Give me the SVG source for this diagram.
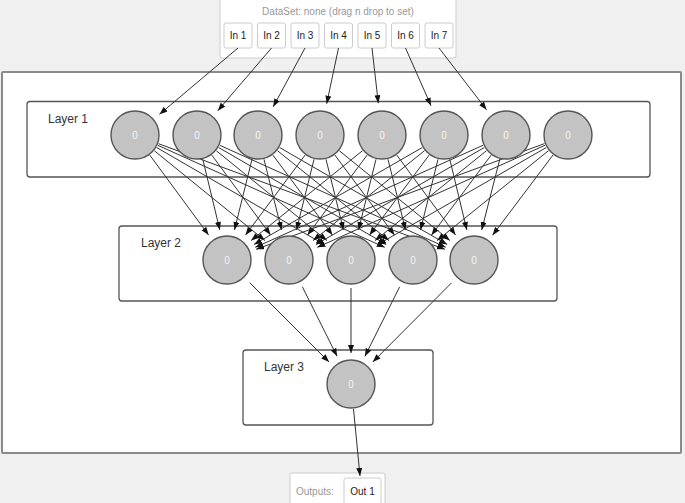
<svg xmlns="http://www.w3.org/2000/svg" width="685" height="503" viewBox="0 0 685 503">
<defs>
<marker id="ah" markerUnits="userSpaceOnUse" markerWidth="9" markerHeight="7" refX="8" refY="3" orient="auto">
<path d="M0,0 L8,3 L0,6 z" fill="#111"/>
</marker>
<style>
.bg{fill:#f0f0f0}
.panel{fill:#fff;stroke:#8a8a8a;stroke-width:2}
.box{fill:none;stroke:#555;stroke-width:1.3}
.node circle{fill:#c3c3c3;stroke:#555;stroke-width:1.4}
.node text{font-family:"Liberation Sans",Arial,sans-serif;font-size:10px;fill:#f4f4f4;text-anchor:middle}
.lbl{font-family:"Liberation Sans",Arial,sans-serif;font-size:12px;fill:#333}
.io{fill:#fff;stroke:#ccc;stroke-width:1}
.iotxt{font-family:"Liberation Sans",Arial,sans-serif;font-size:10px;fill:#222;text-anchor:middle}
.gtxt{font-family:"Liberation Sans",Arial,sans-serif;font-size:10px;fill:#999}
#connectors line{stroke:#333;stroke-width:1;marker-end:url(#ah)}
</style>
</defs>
<rect class="bg" x="0" y="0" width="685" height="503"/>
<rect class="panel" x="2" y="72" width="679" height="381" rx="1"/>

<g id="dataset">
<rect class="io" x="220" y="-2" width="236" height="60" rx="2"/>
<text class="gtxt" x="338" y="15" text-anchor="middle">DataSet: none (drag n drop to set)</text>
</g>
<g id="in1"><rect class="io" x="224" y="23" width="28" height="25" rx="2"/><text class="iotxt" x="238" y="39">In 1</text></g>
<g id="in2"><rect class="io" x="257.5" y="23" width="28" height="25" rx="2"/><text class="iotxt" x="271.5" y="39">In 2</text></g>
<g id="in3"><rect class="io" x="291" y="23" width="28" height="25" rx="2"/><text class="iotxt" x="305" y="39">In 3</text></g>
<g id="in4"><rect class="io" x="324.5" y="23" width="28" height="25" rx="2"/><text class="iotxt" x="338.5" y="39">In 4</text></g>
<g id="in5"><rect class="io" x="358" y="23" width="28" height="25" rx="2"/><text class="iotxt" x="372" y="39">In 5</text></g>
<g id="in6"><rect class="io" x="391.5" y="23" width="28" height="25" rx="2"/><text class="iotxt" x="405.5" y="39">In 6</text></g>
<g id="in7"><rect class="io" x="425" y="23" width="28" height="25" rx="2"/><text class="iotxt" x="439" y="39">In 7</text></g>

<g id="outputs">
<rect class="io" x="290" y="473" width="95" height="40" rx="2"/>
<text class="gtxt" x="296" y="495">Outputs:</text>
</g>
<g id="out1"><rect class="io" x="344" y="478" width="37" height="35" rx="2"/><text class="iotxt" x="362.5" y="495">Out 1</text></g>

<g id="layer1">
<rect class="box" x="27" y="101.5" width="623" height="75.5" rx="3"/>
<text class="lbl" x="48" y="123">Layer 1</text>
</g>
<g id="layer2">
<rect class="box" x="119" y="226" width="438" height="75" rx="3"/>
<text class="lbl" x="141" y="247">Layer 2</text>
</g>
<g id="layer3">
<rect class="box" x="243" y="350" width="190" height="75" rx="3"/>
<text class="lbl" x="264" y="371">Layer 3</text>
</g>

<g id="connectors">
<line x1="238" y1="48" x2="159.5" y2="114.3"/>
<line x1="271.5" y1="48" x2="217.8" y2="110.7"/>
<line x1="305" y1="48" x2="273.2" y2="106.8"/>
<line x1="338.5" y1="48" x2="326.7" y2="103.7"/>
<line x1="372" y1="48" x2="378.3" y2="103.2"/>
<line x1="405.5" y1="48" x2="431" y2="105.7"/>
<line x1="439" y1="48" x2="486.5" y2="109.7"/>

<line x1="149.8" y1="155.1" x2="208.6" y2="235.0"/>
<line x1="154.4" y1="150.8" x2="264.9" y2="240.5"/>
<line x1="156.6" y1="147.5" x2="324.2" y2="244.5"/>
<line x1="157.8" y1="145.3" x2="384.7" y2="247.3"/>
<line x1="158.5" y1="143.7" x2="444.9" y2="249.3"/>

<line x1="202.8" y1="159.3" x2="219.8" y2="229.9"/>
<line x1="211.8" y1="155.1" x2="270.6" y2="235.0"/>
<line x1="216.4" y1="150.8" x2="326.9" y2="240.5"/>
<line x1="218.6" y1="147.5" x2="386.2" y2="244.5"/>
<line x1="219.8" y1="145.3" x2="445.7" y2="247.2"/>

<line x1="252.0" y1="159.3" x2="234.5" y2="229.9"/>
<line x1="264.0" y1="159.3" x2="281.5" y2="229.9"/>
<line x1="272.9" y1="155.1" x2="332.5" y2="235.1"/>
<line x1="277.5" y1="150.7" x2="388.9" y2="240.5"/>
<line x1="279.6" y1="147.5" x2="447.2" y2="244.5"/>

<line x1="305.1" y1="155.1" x2="245.5" y2="235.1"/>
<line x1="314.0" y1="159.3" x2="296.5" y2="229.9"/>
<line x1="326.0" y1="159.3" x2="343.5" y2="229.9"/>
<line x1="334.9" y1="155.1" x2="394.5" y2="235.1"/>
<line x1="339.4" y1="150.8" x2="449.9" y2="240.5"/>

<line x1="362.5" y1="150.7" x2="251.1" y2="240.5"/>
<line x1="367.1" y1="155.1" x2="307.5" y2="235.1"/>
<line x1="376.0" y1="159.3" x2="358.5" y2="229.9"/>
<line x1="388.0" y1="159.3" x2="405.5" y2="229.9"/>
<line x1="396.8" y1="155.1" x2="455.6" y2="235.0"/>

<line x1="422.3" y1="147.5" x2="253.9" y2="244.5"/>
<line x1="424.5" y1="150.7" x2="313.1" y2="240.5"/>
<line x1="429.1" y1="155.1" x2="369.5" y2="235.1"/>
<line x1="438.0" y1="159.3" x2="420.5" y2="229.9"/>
<line x1="449.8" y1="159.3" x2="466.8" y2="229.9"/>

<line x1="483.2" y1="145.2" x2="255.3" y2="247.3"/>
<line x1="484.3" y1="147.5" x2="315.9" y2="244.5"/>
<line x1="486.5" y1="150.7" x2="375.1" y2="240.5"/>
<line x1="491.1" y1="155.1" x2="431.5" y2="235.1"/>
<line x1="499.8" y1="159.2" x2="481.7" y2="230.0"/>

<line x1="544.5" y1="143.6" x2="256.1" y2="249.3"/>
<line x1="545.2" y1="145.2" x2="317.3" y2="247.3"/>
<line x1="546.3" y1="147.5" x2="377.9" y2="244.5"/>
<line x1="548.5" y1="150.7" x2="437.1" y2="240.5"/>
<line x1="553.0" y1="155.0" x2="492.6" y2="235.2"/>

<line x1="249.7" y1="282.7" x2="329.1" y2="362.1"/>
<line x1="302.4" y1="286.9" x2="337.1" y2="356.3"/>
<line x1="351" y1="288" x2="351" y2="353"/>
<line x1="399.6" y1="286.9" x2="364.9" y2="356.3"/>
<line x1="451.6" y1="282.8" x2="372.8" y2="362.0"/>

<line x1="353.5" y1="408.9" x2="360" y2="476"/>
</g>

<g id="n1_1" class="node"><circle cx="135" cy="135" r="24"/><text x="135" y="139">0</text></g>
<g id="n1_2" class="node"><circle cx="197" cy="135" r="24"/><text x="197" y="139">0</text></g>
<g id="n1_3" class="node"><circle cx="258" cy="135" r="24"/><text x="258" y="139">0</text></g>
<g id="n1_4" class="node"><circle cx="320" cy="135" r="24"/><text x="320" y="139">0</text></g>
<g id="n1_5" class="node"><circle cx="382" cy="135" r="24"/><text x="382" y="139">0</text></g>
<g id="n1_6" class="node"><circle cx="444" cy="135" r="24"/><text x="444" y="139">0</text></g>
<g id="n1_7" class="node"><circle cx="506" cy="135" r="24"/><text x="506" y="139">0</text></g>
<g id="n1_8" class="node"><circle cx="568" cy="135" r="24"/><text x="568" y="139">0</text></g>

<g id="n2_1" class="node"><circle cx="227" cy="260" r="24"/><text x="227" y="264">0</text></g>
<g id="n2_2" class="node"><circle cx="289" cy="260" r="24"/><text x="289" y="264">0</text></g>
<g id="n2_3" class="node"><circle cx="351" cy="260" r="24"/><text x="351" y="264">0</text></g>
<g id="n2_4" class="node"><circle cx="413" cy="260" r="24"/><text x="413" y="264">0</text></g>
<g id="n2_5" class="node"><circle cx="474" cy="260" r="24"/><text x="474" y="264">0</text></g>

<g id="n3_1" class="node"><circle cx="351" cy="384" r="24"/><text x="351" y="388">0</text></g>
</svg>
